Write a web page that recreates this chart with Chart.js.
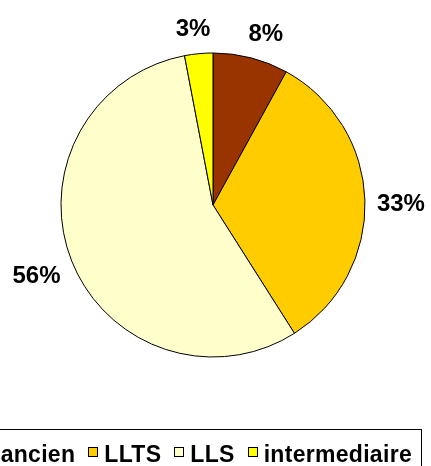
<!DOCTYPE html>
<html>
<head>
<meta charset="utf-8">
<script src="https://cdn.jsdelivr.net/npm/chart.js@4"></script>
<style>
  body { margin: 0; background: #fff; overflow: hidden; }
  #wrap { position: relative; width: 431px; height: 466px; overflow: hidden; }
  #legend {
    position: absolute; left: -40px; top: 429px; width: 462px; height: 60px;
    border: 1px solid #000; box-sizing: border-box; background: #fff;
    padding-top: 2px; padding-left: 0;
    font: bold 23px "Liberation Sans", Arial, sans-serif; line-height: 23px; letter-spacing: 0.3px;
    display: flex; justify-content: flex-end; padding-right: 9px; white-space: nowrap;
  }
  .item { display: flex; align-items: center; margin-left: 13px; position: relative; top: -6px; }
  .box { width: 10px; height: 10px; border: 1px solid #000; box-sizing: border-box; margin-right: 6px; position: relative; top: -2px; }
  canvas { position: absolute; left: 0; top: 0; }
</style>
</head>
<body>
<div id="wrap">
  <canvas id="myChart" width="431" height="466"></canvas>
  <div id="legend"></div>
</div>
<script>
let categories = ['ancien', 'LLTS', 'LLS', 'intermediaire']
let values = [8, 33, 56, 3]
let colors = ['#993300', '#FFCC00', '#FFFFCC', '#FFFF00']

// percent labels placed just outside the pie, like Excel does
const outsideLabels = {
    id: 'outsideLabels',
    afterDatasetsDraw(chart) {
        let ctx = chart.ctx
        let meta = chart.getDatasetMeta(0)
        ctx.save()
        ctx.font = 'bold 24px "Liberation Sans", Arial, sans-serif'
        ctx.fillStyle = '#000'
        ctx.textAlign = 'center'
        ctx.textBaseline = 'middle'
        meta.data.forEach(function (arc, i) {
            let p = arc.getProps(['x', 'y', 'startAngle', 'endAngle', 'outerRadius'], true)
            let mid = (p.startAngle + p.endAngle) / 2
            let dx = Math.cos(mid), dy = Math.sin(mid)
            let text = values[i] + '%'
            let w = ctx.measureText(text).width
            let r = p.outerRadius + 12
            let k = Math.max(-1, Math.min(1, 2.8 * dx))
            let x = p.x + dx * r + k * w / 2
            let y = p.y + dy * r + 5 + 17 * dy
            ctx.fillText(text, x, y)
        })
        ctx.restore()
    }
}

buildLegend()
chartJS()

function buildLegend() {
    let legend = document.getElementById('legend')
    for (let i = 0; i < categories.length; i++) {
        legend.insertAdjacentHTML('beforeend',
            `<div class="item"><span class="box" style="background:${colors[i]}"></span>${categories[i]}</div>`)
    }
}

function chartJS() {
    let ctx = document.getElementById('myChart').getContext('2d')
    window.pie = new Chart(ctx, {
        type: 'pie',
        data: {
            labels: categories,
            datasets: [{
                data: values,
                backgroundColor: colors,
                borderColor: '#000',
                borderWidth: 1,
                hoverOffset: 0,
                radius: 152
            }]
        },
        options: {
            responsive: false,
            animation: false,
            layout: { padding: { left: 0, right: 5, top: 0, bottom: 56 } },
            plugins: {
                legend: { display: false },
                tooltip: { enabled: false }
            }
        },
        plugins: [outsideLabels]
    })
}
</script>
</body>
</html>
